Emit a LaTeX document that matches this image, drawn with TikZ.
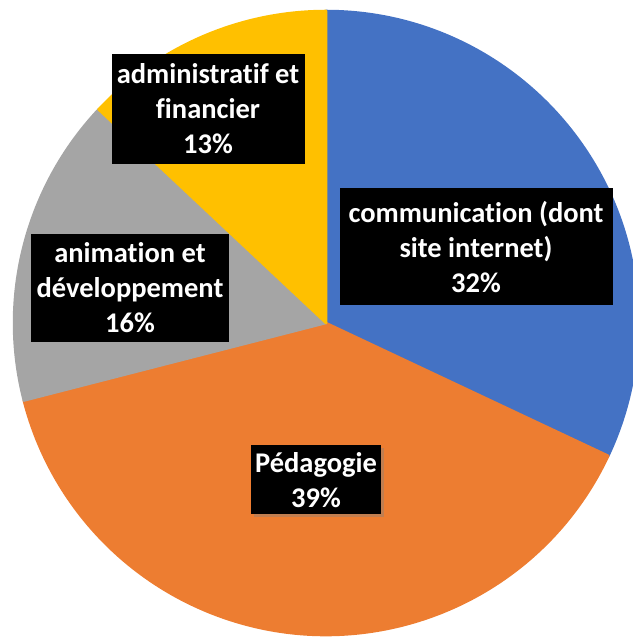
\documentclass[tikz,border=0pt]{standalone}
\usepackage{fontspec}
\setmainfont[Ligatures={NoCommon}]{Carlito}
\usetikzlibrary{shadows}
\definecolor{cblue}{HTML}{4472C4}
\definecolor{corange}{HTML}{ED7D31}
\definecolor{cgray}{HTML}{A5A5A5}
\definecolor{cyellow}{HTML}{FFC000}
\tikzset{
  slice/.style={draw=white, line width=2.5pt, line join=round},
  lbl/.style={fill=black, text=white, font=\bfseries\fontsize{28.5}{35}\selectfont, align=center, inner sep=0pt},
}
\begin{document}
\begin{tikzpicture}[x=1pt,y=1pt]
\useasboundingbox (0,0) rectangle (632,639);
\coordinate (c) at (326,316);
\def\R{312}
\fill[slice, cblue] (c) -- ++(90:\R) arc[start angle=90, end angle=-25.2, radius=\R] -- cycle;
\fill[slice, corange] (c) -- ++(-25.2:\R) arc[start angle=-25.2, end angle=-165.6, radius=\R] -- cycle;
\fill[slice, cgray] (c) -- ++(-165.6:\R) arc[start angle=-165.6, end angle=-223.2, radius=\R] -- cycle;
\fill[slice, cyellow] (c) -- ++(-223.2:\R) arc[start angle=-223.2, end angle=-270, radius=\R] -- cycle;
\node[lbl, minimum width=193, minimum height=110] (admin) at (208,530) {administratif et\\financier\\13\%};
\node[lbl, minimum width=273, minimum height=117] (comm) at (476,392) {communication (dont\\site internet)\\32\%};
\node[lbl, minimum width=198, minimum height=108] (anim) at (130,351) {animation et\\développement\\16\%};
\node[lbl, minimum width=130, minimum height=69, drop shadow={shadow xshift=3pt, shadow yshift=-3pt, opacity=0.4}] (peda) at (316,159) {Pédagogie\\39\%};
\end{tikzpicture}
\end{document}
